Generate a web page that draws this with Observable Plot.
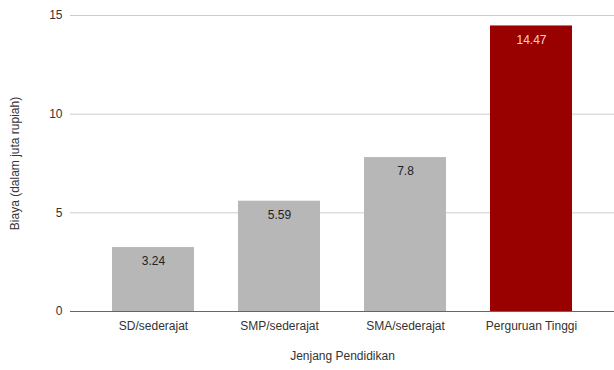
<!DOCTYPE html>
<html><head><meta charset="utf-8">
<script src="https://cdn.jsdelivr.net/npm/d3@7"></script>
<script src="https://cdn.jsdelivr.net/npm/@observablehq/plot@0.6"></script>
<style>body{margin:0;background:#fff;font-family:"Liberation Sans",Arial,sans-serif}</style>
</head><body><div id="chart"></div>
<script>
const categories = ["SD/sederajat", "SMP/sederajat", "SMA/sederajat", "Perguruan Tinggi"];
const values = [3.24, 5.59, 7.8, 14.47];
const colors = ["#b7b7b7", "#b7b7b7", "#b7b7b7", "#990000"];
const labelColors = ["#222", "#222", "#222", "#f4d0d0"];
const yTicks = [0, 5, 10, 15];
const data = categories.map((c, i) => ({cat: c, val: values[i], fill: colors[i], lc: labelColors[i]}));

const chart = Plot.plot({
  width: 614, height: 370,
  marginLeft: 70, marginRight: 0, marginTop: 15, marginBottom: 59,
  style: {fontFamily: "Liberation Sans, Arial, sans-serif", fontSize: "12px", color: "#333"},
  x: {domain: categories, paddingInner: 0.35, paddingOuter: 0.33, label: null},
  y: {domain: [0, 15], label: null},
  marks: [
    Plot.gridY(yTicks, {stroke: "#ccc", strokeOpacity: 1}),
    Plot.barY(data, {x: "cat", y: "val", fill: "fill"}),
    Plot.text(data, {x: "cat", y: "val", text: d => String(d.val), fill: "lc", dy: 14, fontSize: 12}),
    Plot.ruleY([0], {stroke: "#666", strokeWidth: 1.2}),
    Plot.ruleX([0], {frameAnchor: "left", stroke: "#666", strokeWidth: 1.2}),
    Plot.axisY({ticks: yTicks, tickSize: 0, tickPadding: 8, label: null, fill: "#333", fontSize: 12}),
    Plot.axisX({tickSize: 0, tickPadding: 10, label: null, fill: "#333", fontSize: 12}),
    Plot.text(["Biaya (dalam juta rupiah)"], {frameAnchor: "left", textAnchor: "middle", dx: -55, rotate: -90, fontSize: 12, fill: "#333"}),
    Plot.text(["Jenjang Pendidikan"], {frameAnchor: "bottom", dy: 48, fontSize: 12, fill: "#333"})
  ]
});
document.getElementById("chart").appendChild(chart);
</script></body></html>
